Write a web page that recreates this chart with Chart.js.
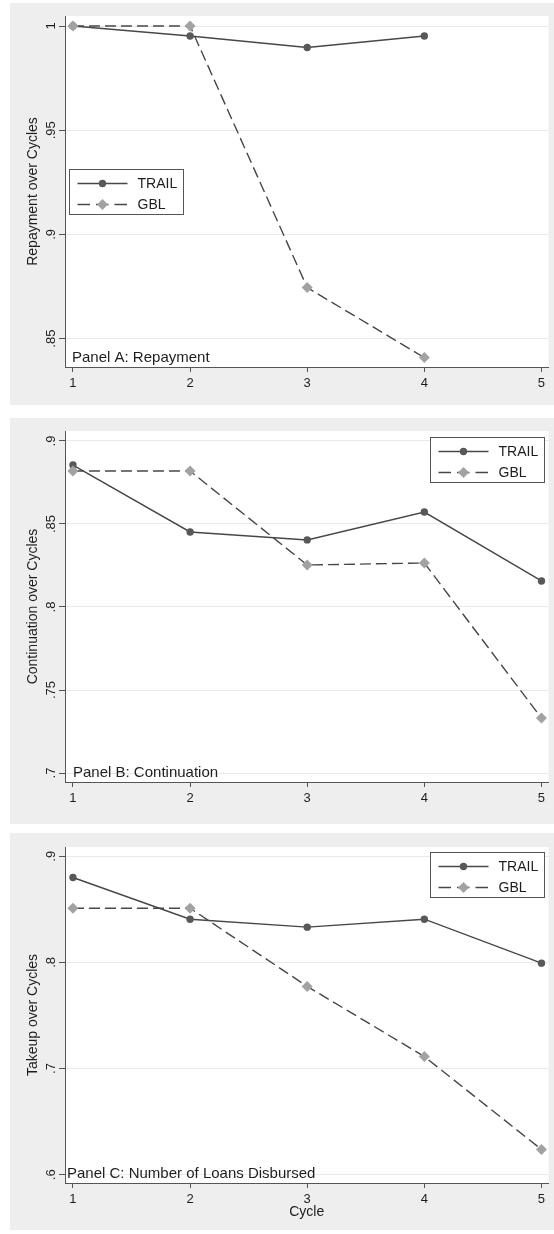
<!DOCTYPE html>
<html lang="en">
<head>
    <meta charset="UTF-8">
    <title>TRAIL vs GBL over Cycles</title>
    <style>
        body, html {
            margin: 0;
            padding: 0;
            background: #ffffff;
        }
        body {
            position: relative;
            width: 554px;
            height: 1234px;
            overflow: hidden;
        }
        .panel {
            position: absolute;
            left: 10px;
            width: 544px;
            background: #eeeeee;
        }
        .panel canvas {
            display: block;
        }
    </style>
</head>
<body>
    <div class="panel" style="top:3px;height:402px"><canvas id="chartA" width="544" height="402"></canvas></div>
    <div class="panel" style="top:418px;height:406px"><canvas id="chartB" width="544" height="406"></canvas></div>
    <div class="panel" style="top:833px;height:397px"><canvas id="chartC" width="544" height="397"></canvas></div>

    <script src="https://cdn.jsdelivr.net/npm/chart.js"></script>
    <script>
        // data
        const cycles = [1, 2, 3, 4, 5];
        const seriesNames = ['TRAIL', 'GBL'];

        const trailRepayment = [1.0, 0.9952, 0.9897, 0.9952, null];
        const gblRepayment = [1.0, 1.0, 0.8745, 0.8409, null];

        const trailContinuation = [0.8855, 0.8452, 0.8404, 0.8572, 0.8157];
        const gblContinuation = [0.8819, 0.8819, 0.8253, 0.8265, 0.7331];

        const trailTakeup = [0.880, 0.8407, 0.8332, 0.8407, 0.7993];
        const gblTakeup = [0.851, 0.851, 0.7774, 0.7113, 0.6238];

        const yTicksA = [0.85, 0.9, 0.95, 1];
        const yLabelsA = ['.85', '.9', '.95', '1'];
        const yTicksB = [0.7, 0.75, 0.8, 0.85, 0.9];
        const yLabelsB = ['.7', '.75', '.8', '.85', '.9'];
        const yTicksC = [0.6, 0.7, 0.8, 0.9];
        const yLabelsC = ['.6', '.7', '.8', '.9'];

        const FONT = '"Liberation Sans", Arial, Helvetica, sans-serif';
        const TEXT = '#1e1e1e';
        const AXIS = '#555555';
        const TRAIL_LINE = '#474747';
        const TRAIL_MARK = '#585858';
        const GBL_LINE = '#474747';
        const GBL_MARK = '#a2a2a2';
        const GBL_DASH = [11, 5];

        function points(ys) {
            return cycles.map((c, i) => ({ x: c, y: ys[i] })).filter(p => p.y !== null);
        }

        // stata-ish decorations: white plot region, rotated y labels, titles, legend
        const stataDecor = {
            id: 'stataDecor',
            beforeDraw(chart, args, o) {
                const a = chart.chartArea;
                const ctx = chart.ctx;
                ctx.save();
                ctx.fillStyle = '#ffffff';
                ctx.fillRect(a.left, a.top, a.right - a.left, a.bottom - a.top);
                ctx.restore();
            },
            afterDraw(chart, args, o) {
                const a = chart.chartArea;
                const ctx = chart.ctx;
                const ys = chart.scales.y;
                ctx.save();
                ctx.fillStyle = TEXT;

                // y tick labels, rotated
                ctx.font = '13px ' + FONT;
                ctx.textAlign = 'center';
                ctx.textBaseline = 'middle';
                o.yTicks.forEach((v, i) => {
                    ctx.save();
                    ctx.translate(a.left - 14, ys.getPixelForValue(v));
                    ctx.rotate(-Math.PI / 2);
                    ctx.fillText(o.yLabels[i], 0, 0);
                    ctx.restore();
                });

                // y axis title
                ctx.font = '14px ' + FONT;
                ctx.save();
                ctx.translate(a.left - 32, (a.top + a.bottom) / 2);
                ctx.rotate(-Math.PI / 2);
                ctx.fillText(o.yTitle, 0, 0);
                ctx.restore();

                // x axis title
                if (o.xTitle) {
                    ctx.fillText(o.xTitle, (a.left + a.right) / 2, a.bottom + 29);
                }

                // panel note
                ctx.font = '15px ' + FONT;
                ctx.textAlign = 'left';
                ctx.textBaseline = 'alphabetic';
                ctx.fillText(o.note, a.left + o.noteX, a.bottom - 5);

                // legend box
                const bx = Math.round(a.left + o.legend.x) + 0.5;
                const by = Math.round(a.top + o.legend.y) + 0.5;
                ctx.fillStyle = '#ffffff';
                ctx.fillRect(bx, by, 114, 45);
                ctx.strokeStyle = AXIS;
                ctx.lineWidth = 1;
                ctx.strokeRect(bx, by, 114, 45);

                const rows = [by + 14, by + 35];
                // TRAIL
                ctx.strokeStyle = TRAIL_LINE;
                ctx.lineWidth = 1.4;
                ctx.beginPath();
                ctx.moveTo(bx + 8, rows[0]);
                ctx.lineTo(bx + 58, rows[0]);
                ctx.stroke();
                ctx.fillStyle = TRAIL_MARK;
                ctx.beginPath();
                ctx.arc(bx + 33, rows[0], 3.7, 0, Math.PI * 2);
                ctx.fill();
                // GBL
                ctx.strokeStyle = GBL_LINE;
                ctx.setLineDash([12.5, 6]);
                ctx.beginPath();
                ctx.moveTo(bx + 8, rows[1]);
                ctx.lineTo(bx + 58, rows[1]);
                ctx.stroke();
                ctx.setLineDash([]);
                ctx.fillStyle = GBL_MARK;
                ctx.beginPath();
                ctx.moveTo(bx + 33, rows[1] - 5.5);
                ctx.lineTo(bx + 38.5, rows[1]);
                ctx.lineTo(bx + 33, rows[1] + 5.5);
                ctx.lineTo(bx + 27.5, rows[1]);
                ctx.closePath();
                ctx.fill();

                ctx.fillStyle = TEXT;
                ctx.font = '14px ' + FONT;
                ctx.textBaseline = 'middle';
                ctx.fillText(seriesNames[0], bx + 68, rows[0] + 1);
                ctx.fillText(seriesNames[1], bx + 68, rows[1] + 1);
                ctx.restore();
            }
        };

        function makePanel(id, cfg) {
            return new Chart(document.getElementById(id), {
                type: 'line',
                data: {
                    datasets: [{
                        label: seriesNames[0],
                        data: points(cfg.trail),
                        borderColor: TRAIL_LINE,
                        borderWidth: 1.4,
                        pointStyle: 'circle',
                        pointRadius: 3.7,
                        pointBackgroundColor: TRAIL_MARK,
                        pointBorderWidth: 0,
                        order: 1
                    }, {
                        label: seriesNames[1],
                        data: points(cfg.gbl),
                        borderColor: GBL_LINE,
                        borderWidth: 1.4,
                        borderDash: GBL_DASH,
                        pointStyle: 'rectRot',
                        pointRadius: 5.5,
                        pointBackgroundColor: GBL_MARK,
                        pointBorderWidth: 0,
                        order: 0
                    }]
                },
                options: {
                    responsive: false,
                    animation: false,
                    events: [],
                    layout: { padding: { top: cfg.top, right: 5, left: 0, bottom: 0 } },
                    elements: { line: { tension: 0, fill: false } },
                    scales: {
                        x: {
                            type: 'linear',
                            min: 0.932,
                            max: 5.06,
                            afterBuildTicks: s => { s.ticks = cycles.map(v => ({ value: v })); },
                            afterFit: s => { s.height = cfg.xHeight; },
                            ticks: {
                                font: { size: 13, family: FONT },
                                color: TEXT,
                                padding: 4,
                                maxRotation: 0,
                                callback: v => String(v)
                            },
                            grid: { drawOnChartArea: false, drawTicks: true, tickLength: 5, tickColor: AXIS },
                            border: { display: true, color: AXIS, width: 1 }
                        },
                        y: {
                            min: cfg.yMin,
                            max: cfg.yMax,
                            afterBuildTicks: s => { s.ticks = cfg.yTicks.map(v => ({ value: v })); },
                            afterFit: s => { s.width = 55; },
                            ticks: { display: false },
                            grid: { color: '#e9e9e9', lineWidth: 1, drawTicks: true, tickLength: 6, tickColor: AXIS },
                            border: { display: true, color: AXIS, width: 1 }
                        }
                    },
                    plugins: {
                        legend: { display: false },
                        tooltip: { enabled: false },
                        stataDecor: {
                            yTicks: cfg.yTicks,
                            yLabels: cfg.yLabels,
                            yTitle: cfg.yTitle,
                            xTitle: cfg.xTitle,
                            note: cfg.note,
                            noteX: cfg.noteX,
                            legend: cfg.legend
                        }
                    }
                },
                plugins: [stataDecor]
            });
        }

        makePanel('chartA', {
            trail: trailRepayment, gbl: gblRepayment,
            yMin: 0.8364, yMax: 1.0048, yTicks: yTicksA, yLabels: yLabelsA,
            yTitle: 'Repayment over Cycles', note: 'Panel A: Repayment', noteX: 7,
            top: 13, xHeight: 38, legend: { x: 4, y: 153 }
        });

        makePanel('chartB', {
            trail: trailContinuation, gbl: gblContinuation,
            yMin: 0.6946, yMax: 0.906, yTicks: yTicksB, yLabels: yLabelsB,
            yTitle: 'Continuation over Cycles', note: 'Panel B: Continuation', noteX: 8,
            top: 13, xHeight: 42, legend: { x: 365, y: 6 }
        });

        makePanel('chartC', {
            trail: trailTakeup, gbl: gblTakeup,
            yMin: 0.5922, yMax: 0.9087, yTicks: yTicksC, yLabels: yLabelsC,
            yTitle: 'Takeup over Cycles', xTitle: 'Cycle', note: 'Panel C: Number of Loans Disbursed', noteX: 2,
            top: 14, xHeight: 47, legend: { x: 365, y: 5 }
        });
    </script>
</body>
</html>
